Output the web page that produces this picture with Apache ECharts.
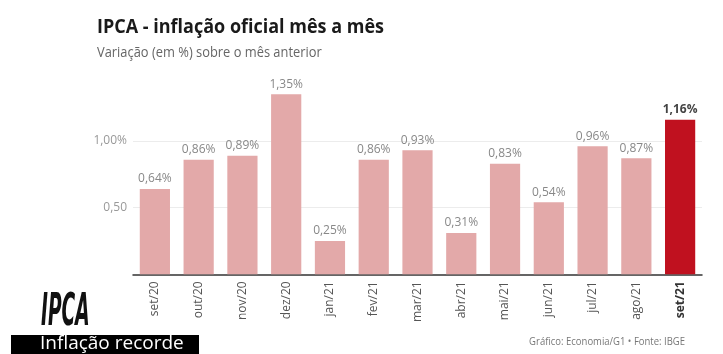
<!DOCTYPE html>
<html><head><meta charset="utf-8">
<script src="https://cdn.jsdelivr.net/npm/echarts@6/dist/echarts.min.js"></script>
<style>html,body{margin:0;padding:0;background:#fff}#c{width:723px;height:354px}</style>
</head><body><div id="c"></div>
<script>
const categories = ['set/20','out/20','nov/20','dez/20','jan/21','fev/21','mar/21','abr/21','mai/21','jun/21','jul/21','ago/21','set/21'];
const values = [0.64,0.86,0.89,1.35,0.25,0.86,0.93,0.31,0.83,0.54,0.96,0.87,1.16];
const yTicks = [0.5, 1.0];
const highlightIndex = 12;

const fmt = v => v.toFixed(2).replace('.', ',');
const chart = echarts.init(document.getElementById('c'), null, {renderer:'canvas'});
const FONT = '"Open Sans", "Noto Sans", sans-serif';
chart.setOption({
  animation:false,
  backgroundColor:'#fff',
  grid:{left:133, right:21, top:74.3, bottom:79.7},
  xAxis:{type:'category', data:categories,
    axisLine:{lineStyle:{color:'#333', width:1.5}},
    axisTick:{show:false},
    axisLabel:{rotate:90, margin:7, fontFamily:FONT, fontSize:12, color:'#555',
      formatter:(v,i)=> i===highlightIndex ? '{b|'+v+'}' : v,
      rich:{b:{fontWeight:'bold', color:'#333', fontFamily:FONT, fontSize:12}}}
  },
  yAxis:{type:'value', min:0, max:1.5, interval:0.5,
    axisLine:{show:false}, axisTick:{show:false},
    axisLabel:{margin:6, fontFamily:FONT, fontSize:12, color:'#999',
      formatter:v=> v===1 ? '1,00%' : (yTicks.includes(v) ? fmt(v) : '')},
    splitLine:{lineStyle:{color:['rgba(0,0,0,0)','#ececec','#ececec','rgba(0,0,0,0)'], width:1}}
  },
  series:[{type:'bar', barCategoryGap:'31%',
    data: values.map((v,i)=>({value:v,
      itemStyle:{color: i===highlightIndex ? '#c0111f' : '#e3a9a9'},
      label: i===highlightIndex ? {fontWeight:'bold', color:'#444'} : undefined})),
    label:{show:true, position:'top', distance:4, fontFamily:FONT, fontSize:12, color:'#888',
      formatter:p=>fmt(p.value)+'%'}
  }],
  graphic:[
    {type:'text', x:97, y:17, scaleX:0.9, style:{text:'IPCA - inflação oficial mês a mês', font:'bold 20px "Open Sans", sans-serif', fill:'#1a1a1a', verticalAlign:'top'}},
    {type:'text', x:97, y:46, scaleX:0.92, style:{text:'Variação (em %) sobre o mês anterior', font:'14px "Open Sans", sans-serif', fill:'#666', verticalAlign:'top'}},
    {type:'text', x:41, y:292, scaleX:0.47, style:{text:'IPCA', font:'italic bold 44px "Liberation Sans Narrow", "DejaVu Sans Condensed", sans-serif', fill:'#111', verticalAlign:'top'}},
    {type:'rect', shape:{x:11, y:335, width:188, height:25}, style:{fill:'#000'}},
    {type:'text', x:40, y:334, style:{text:'Inflação recorde', font:'19px "Open Sans", sans-serif', fill:'#fff', verticalAlign:'top'}},
    {type:'text', x:685, y:337, scaleX:0.95, style:{text:'Gráfico: Economia/G1 • Fonte: IBGE', font:'10px "Open Sans", sans-serif', fill:'#777', align:'right', verticalAlign:'top'}}
  ]
});
</script></body></html>
